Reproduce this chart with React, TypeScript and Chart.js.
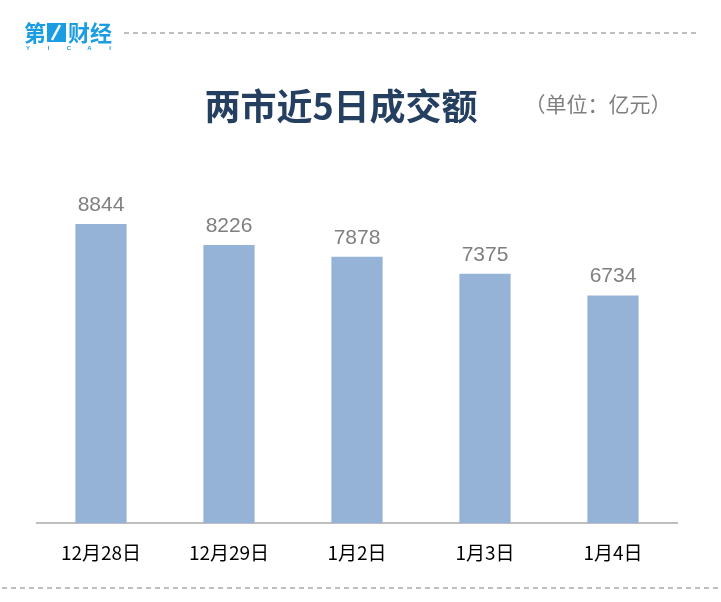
import React, { useEffect, useRef } from "react";
import { Chart, registerables } from "chart.js";

Chart.register(...registerables);

const categories = ["12月28日", "12月29日", "1月2日", "1月3日", "1月4日"];
const values = [8844, 8226, 7878, 7375, 6734];
const title = "两市近5日成交额";
const unitText = "（单位：亿元）";

const CJK = '"Noto Sans CJK SC", "Noto Sans", sans-serif';

const decorPlugin = {
  id: "decor",
  afterDraw(chart: any) {
    const ctx = chart.ctx;
    ctx.save();
    // dashed lines
    ctx.strokeStyle = "#bfbfbf";
    ctx.lineWidth = 2;
    ctx.setLineDash([5, 4]);
    ctx.beginPath();
    ctx.moveTo(124, 33);
    ctx.lineTo(698, 33);
    ctx.stroke();
    ctx.beginPath();
    ctx.moveTo(2, 588);
    ctx.lineTo(720, 588);
    ctx.stroke();
    ctx.setLineDash([]);
    // logo
    const blue = "#1b9de2";
    ctx.fillStyle = blue;
    ctx.font = `bold 22px ${CJK}`;
    ctx.textBaseline = "middle";
    ctx.textAlign = "left";
    ctx.fillText("第", 24, 33);
    ctx.fillText("财经", 68, 33);
    ctx.fillRect(47, 23, 19, 19);
    ctx.strokeStyle = "#ffffff";
    ctx.lineWidth = 2.5;
    ctx.beginPath();
    ctx.moveTo(60, 25);
    ctx.lineTo(52, 40);
    ctx.stroke();
    ctx.font = `bold 6px "Liberation Sans", sans-serif`;
    ctx.textAlign = "center";
    const letters = ["Y", "I", "C", "A", "I"];
    letters.forEach((l, i) => ctx.fillText(l, 28 + i * 20.5, 48));
    // title
    ctx.fillStyle = "#243f60";
    ctx.font = `bold 36px ${CJK}`;
    ctx.textAlign = "center";
    ctx.fillText(title, 341, 106);
    ctx.fillStyle = "#7f7f7f";
    ctx.font = `21px ${CJK}`;
    ctx.fillText(unitText, 598, 104);
    // value labels
    const meta = chart.getDatasetMeta(0);
    ctx.fillStyle = "#7f7f7f";
    ctx.font = `21px "Liberation Sans", Arial, sans-serif`;
    ctx.textBaseline = "alphabetic";
    meta.data.forEach((bar: any, i: number) => {
      ctx.fillText(String(values[i]), bar.x, bar.y - 13);
    });
    ctx.restore();
  },
};

export default function App() {
  const ref = useRef<HTMLCanvasElement>(null);
  useEffect(() => {
    document.body.style.margin = "0";
    const chart = new Chart(ref.current!, {
      type: "bar",
      data: {
        labels: categories,
        datasets: [
          {
            data: values,
            backgroundColor: "#95b3d7",
            barPercentage: 0.8,
            categoryPercentage: 0.5,
          },
        ],
      },
      options: {
        animation: false,
        responsive: false,
        maintainAspectRatio: false,
        layout: { padding: { left: 37, right: 44, top: 185, bottom: 20 } },
        plugins: { legend: { display: false }, tooltip: { enabled: false }, title: { display: false } },
        scales: {
          x: {
            grid: { display: false, drawTicks: false },
            border: { display: true, color: "#bfbfbf", width: 2 },
            ticks: { color: "#000000", font: { size: 19, family: CJK }, padding: 18 },
          },
          y: { display: false, min: 0, max: 10000 },
        },
      },
      plugins: [decorPlugin],
    });
    return () => chart.destroy();
  }, []);
  return (
    <div style={{ position: "absolute", left: 0, top: 0, width: 721, height: 602, background: "#fff" }}>
      <canvas ref={ref} width={721} height={602} style={{ width: 721, height: 602 }} />
    </div>
  );
}
